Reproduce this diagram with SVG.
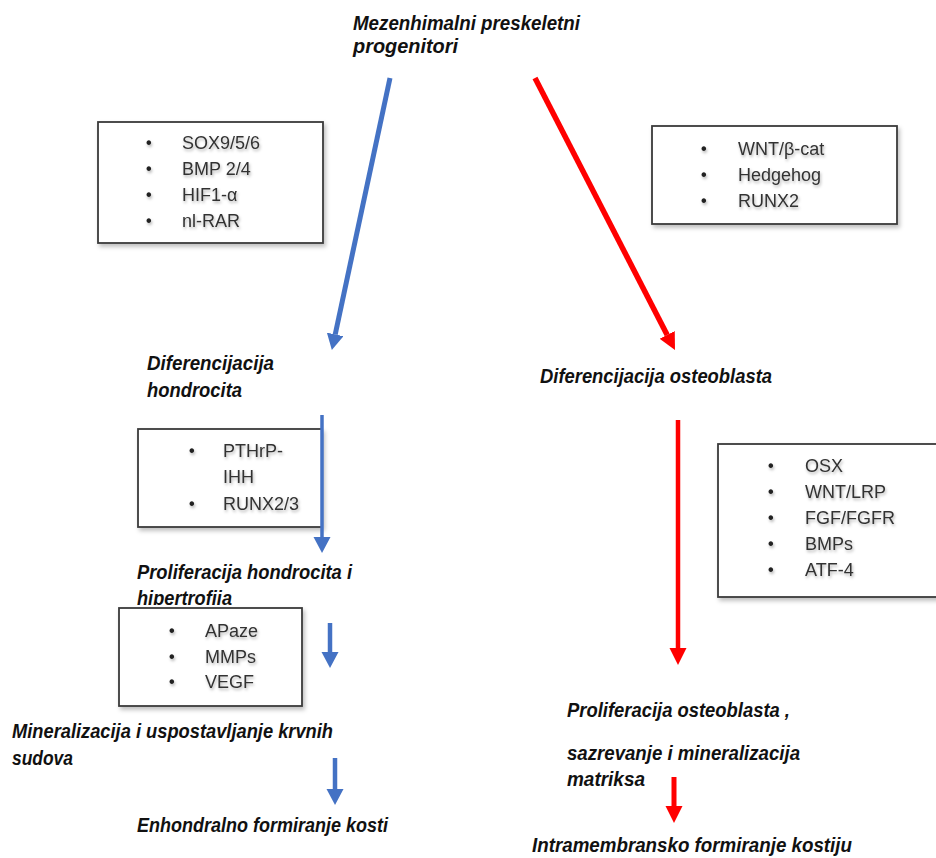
<svg xmlns="http://www.w3.org/2000/svg" width="936" height="858" viewBox="0 0 936 858">
<defs>
<style>
.lbl{font-family:"Liberation Sans",Arial,sans-serif;font-size:20px;font-weight:bold;font-style:italic;fill:#111}
.box{fill:#fff;stroke:#3a3a3a;stroke-width:1.8}
.item{font-family:"Liberation Sans",Arial,sans-serif;font-size:18px;fill:#333}
.bul{font-family:"Liberation Sans",Arial,sans-serif;font-size:16px;font-weight:bold;fill:#222}
.blue{stroke:#4472C4;fill:none}
.red{stroke:#FF0000;fill:none}
</style>
<filter id="bshadow" x="-5%" y="-5%" width="115%" height="120%">
<feDropShadow dx="2" dy="3" stdDeviation="2" flood-color="#000" flood-opacity="0.25"/>
</filter>
<filter id="tshadow" x="-10%" y="-30%" width="130%" height="170%">
<feDropShadow dx="1" dy="2" stdDeviation="1.5" flood-color="#000" flood-opacity="0.3"/>
</filter>
<marker id="hb" markerUnits="userSpaceOnUse" markerWidth="18" markerHeight="18" refX="0" refY="8.5" orient="auto">
<path d="M0,0 L16,8.5 L0,17 z" fill="#4472C4"/>
</marker>
<marker id="hr" markerUnits="userSpaceOnUse" markerWidth="18" markerHeight="18" refX="0" refY="8.5" orient="auto">
<path d="M0,0 L17,8.5 L0,17 z" fill="#FF0000"/>
</marker>
<clipPath id="clipHip"><rect x="0" y="0" width="936" height="605"/></clipPath>
</defs>
<rect width="936" height="858" fill="#fff"/>

<g id="connectors">
<line class="blue" x1="390" y1="78" x2="335.2" y2="334.4" stroke-width="5" marker-end="url(#hb)"/>
<line class="red" x1="535" y1="78" x2="667.2" y2="334.9" stroke-width="5.5" marker-end="url(#hr)"/>
<line class="red" x1="678" y1="420" x2="678" y2="648" stroke-width="4.5" marker-end="url(#hr)"/>
<line class="red" x1="674" y1="777" x2="674" y2="806" stroke-width="5" marker-end="url(#hr)"/>
<line class="blue" x1="330" y1="623" x2="330" y2="652" stroke-width="4.5" marker-end="url(#hb)"/>
<line class="blue" x1="335" y1="758" x2="335" y2="789" stroke-width="4.5" marker-end="url(#hb)"/>
</g>

<g id="title">
<text class="lbl" x="353" y="30" textLength="227" lengthAdjust="spacingAndGlyphs">Mezenhimalni preskeletni</text>
<text class="lbl" x="353" y="53" textLength="105" lengthAdjust="spacingAndGlyphs">progenitori</text>
</g>

<g id="box-sox">
<rect class="box" x="98" y="122" width="225" height="121" filter="url(#bshadow)"/>
<g filter="url(#tshadow)">
<text class="bul" x="146" y="148">•</text><text class="item" x="182" y="149">SOX9/5/6</text>
<text class="bul" x="146" y="174">•</text><text class="item" x="182" y="175">BMP 2/4</text>
<text class="bul" x="146" y="200">•</text><text class="item" x="182" y="201">HIF1-α</text>
<text class="bul" x="146" y="226">•</text><text class="item" x="182" y="227">nl-RAR</text>
</g>
</g>

<g id="box-wnt">
<rect class="box" x="652" y="126" width="245" height="98" filter="url(#bshadow)"/>
<g filter="url(#tshadow)">
<text class="bul" x="701" y="154">•</text><text class="item" x="738" y="155">WNT/β-cat</text>
<text class="bul" x="701" y="180">•</text><text class="item" x="738" y="181">Hedgehog</text>
<text class="bul" x="701" y="206">•</text><text class="item" x="738" y="207">RUNX2</text>
</g>
</g>

<g id="diff-hondrocita">
<text class="lbl" x="147" y="370" textLength="127" lengthAdjust="spacingAndGlyphs">Diferencijacija</text>
<text class="lbl" x="147" y="397" textLength="95" lengthAdjust="spacingAndGlyphs">hondrocita</text>
</g>

<g id="diff-osteoblasta">
<text class="lbl" x="540" y="383" textLength="232" lengthAdjust="spacingAndGlyphs">Diferencijacija osteoblasta</text>
</g>

<g id="box-pthrp">
<rect class="box" x="138" y="429" width="184" height="98" filter="url(#bshadow)"/>
<g filter="url(#tshadow)">
<text class="bul" x="189" y="456">•</text><text class="item" x="223" y="457">PTHrP-</text>
<text class="item" x="223" y="483">IHH</text>
<text class="bul" x="189" y="509">•</text><text class="item" x="223" y="510">RUNX2/3</text>
</g>
</g>

<g id="connector-pthrp">
<line class="blue" x1="322" y1="415" x2="322" y2="537" stroke-width="3.5" marker-end="url(#hb)"/>
</g>

<g id="box-osx">
<rect class="box" x="718" y="444" width="222" height="153" filter="url(#bshadow)"/>
<g filter="url(#tshadow)">
<text class="bul" x="768" y="471">•</text><text class="item" x="805" y="472">OSX</text>
<text class="bul" x="768" y="497">•</text><text class="item" x="805" y="498">WNT/LRP</text>
<text class="bul" x="768" y="523">•</text><text class="item" x="805" y="524">FGF/FGFR</text>
<text class="bul" x="768" y="549">•</text><text class="item" x="805" y="550">BMPs</text>
<text class="bul" x="768" y="575">•</text><text class="item" x="805" y="576">ATF-4</text>
</g>
</g>

<g id="prolif-hondrocita">
<text class="lbl" x="137" y="579" textLength="215" lengthAdjust="spacingAndGlyphs">Proliferacija hondrocita i</text>
<text class="lbl" x="137" y="605" textLength="95" lengthAdjust="spacingAndGlyphs" clip-path="url(#clipHip)">hipertrofija</text>
</g>

<g id="box-apaze">
<rect class="box" x="119" y="608" width="183" height="98" filter="url(#bshadow)"/>
<g filter="url(#tshadow)">
<text class="bul" x="169" y="636">•</text><text class="item" x="205" y="637">APaze</text>
<text class="bul" x="169" y="662">•</text><text class="item" x="205" y="663">MMPs</text>
<text class="bul" x="169" y="687">•</text><text class="item" x="205" y="688">VEGF</text>
</g>
</g>

<g id="mineralizacija">
<text class="lbl" x="12" y="738" textLength="321" lengthAdjust="spacingAndGlyphs">Mineralizacija i uspostavljanje krvnih</text>
<text class="lbl" x="12" y="765" textLength="61" lengthAdjust="spacingAndGlyphs">sudova</text>
</g>

<g id="enhondralno">
<text class="lbl" x="137" y="832" textLength="251" lengthAdjust="spacingAndGlyphs">Enhondralno formiranje kosti</text>
</g>

<g id="prolif-osteoblasta">
<text class="lbl" x="567" y="717" textLength="223" lengthAdjust="spacingAndGlyphs">Proliferacija osteoblasta ,</text>
<text class="lbl" x="567" y="760" textLength="233" lengthAdjust="spacingAndGlyphs">sazrevanje i mineralizacija</text>
<text class="lbl" x="567" y="786" textLength="78" lengthAdjust="spacingAndGlyphs">matriksa</text>
</g>

<g id="intramembransko">
<text class="lbl" x="532" y="852" textLength="320" lengthAdjust="spacingAndGlyphs">Intramembransko formiranje kostiju</text>
</g>
</svg>
